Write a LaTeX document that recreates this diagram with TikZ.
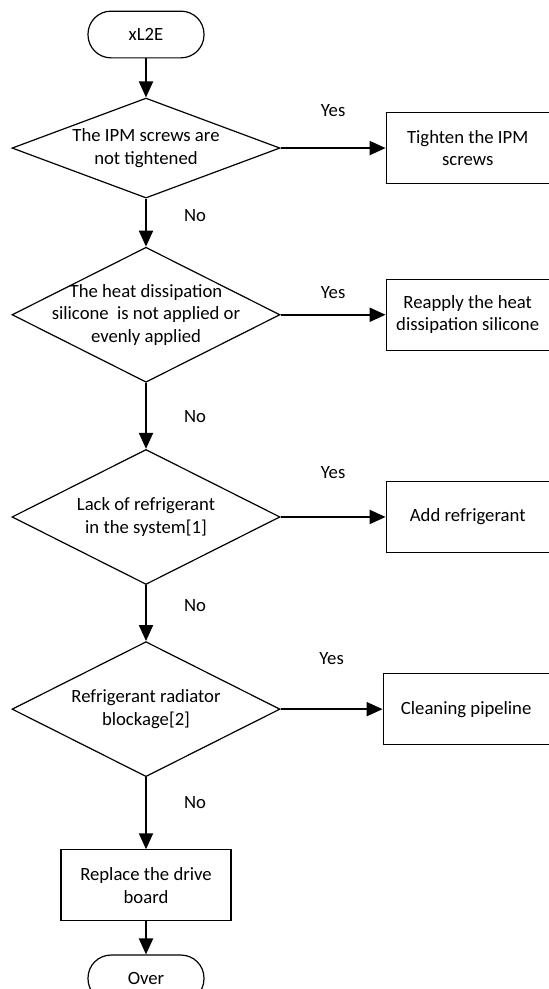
\documentclass[tikz,border=0pt]{standalone}
\usepackage{fontspec}
\setmainfont{Carlito}
\usetikzlibrary{arrows.meta, positioning, shapes.geometric}

\begin{document}
\begin{tikzpicture}[x=1pt, y=-1pt, node distance=40pt, >={Triangle[length=16pt, width=14pt]},
    every node/.style={font=\fontsize{18.7}{22.5}\selectfont},
    term/.style={draw, line width=1.2pt, rounded corners=23pt, minimum width=116pt, minimum height=46.7pt},
    decision/.style={draw, diamond, aspect=2, line width=1.2pt, minimum width=268pt, minimum height=135pt, inner sep=-20pt, align=center},
    process/.style={draw, line width=1.2pt, minimum width=163pt, minimum height=71pt, inner sep=2pt, align=center},
    flow/.style={->, line width=2pt}]
    \useasboundingbox (0,0) rectangle (549,989);

    \node[term] (start) at (146, 34.5) {xL2E};
    \node[decision, minimum height=100pt, below=39pt of start] (ipm)
        {The IPM screws are\\not tightened};
    \node[process, right=105pt of ipm] (tighten)
        {Tighten the IPM\\screws};
    \node[decision, below=48pt of ipm] (silicone)
        {The heat dissipation\\silicone\ \ is not applied or\\evenly applied};
    \node[process, right=105pt of silicone] (reapply)
        {Reapply the heat\\dissipation silicone};
    \node[decision, below=66pt of silicone] (lack)
        {Lack of refrigerant\\in the system[1]};
    \node[process, right=105pt of lack] (addref)
        {Add refrigerant};
    \node[decision, below=56pt of lack] (block)
        {Refrigerant radiator\\blockage[2]};
    \node[process, minimum width=166pt, right=102pt of block] (clean)
        {Cleaning pipeline};
    \node[process, minimum width=170pt, below=72pt of block] (replace)
        {Replace the drive\\board};
    \node[term, below=33pt of replace] (over) {Over};

    \draw[flow] (start) -- (ipm);
    \draw[flow] (ipm) -- node[yshift=37pt] {Yes} (tighten);
    \draw[flow] (ipm) -- node[xshift=49pt, yshift=7pt] {No} (silicone);
    \draw[flow] (silicone) -- node[yshift=22pt] {Yes} (reapply);
    \draw[flow] (silicone) -- node[xshift=49pt, yshift=-1pt] {No} (lack);
    \draw[flow] (lack) -- node[yshift=44pt] {Yes} (addref);
    \draw[flow] (lack) -- node[xshift=49pt, yshift=7pt] {No} (block);
    \draw[flow] (block) -- node[yshift=51pt] {Yes} (clean);
    \draw[flow] (block) -- node[xshift=49pt, yshift=11pt] {No} (replace);
    \draw[flow] (replace) -- (over);
\end{tikzpicture}
\end{document}
